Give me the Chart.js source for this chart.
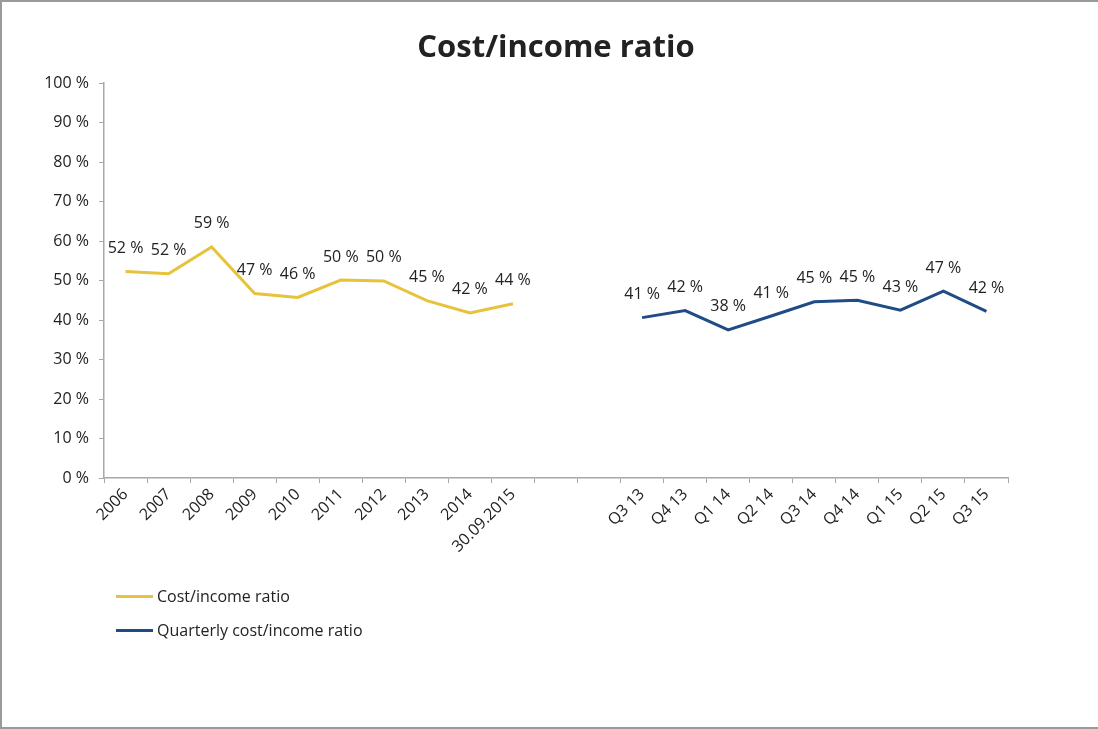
<!DOCTYPE html>
<html>
<head>
<meta charset="utf-8">
<script src="https://cdn.jsdelivr.net/npm/chart.js@4"></script>
<style>
  html, body { margin: 0; padding: 0; background: #fff; }
  body { width: 1098px; height: 729px; position: relative; overflow: hidden; font-family: "Open Sans", sans-serif; }
  #frame { position: absolute; left: 0; top: 0; width: 1200px; height: 725px; border: 2px solid #9a9a9a; }
  #wrap { position: absolute; left: 0; top: 0; width: 1098px; height: 729px; }
  #legend { position: absolute; left: 116px; top: 584px; font-size: 16px; color: #222; }
  .item { display: flex; align-items: center; height: 24px; line-height: 24px; margin-bottom: 10px; }
  .swatch { display: inline-block; width: 37px; height: 3px; margin-right: 4px; }
</style>
</head>
<body>
<div id="frame"></div>
<div id="wrap"><canvas id="ratioChart" width="1098" height="729"></canvas></div>
<div id="legend">
  <div class="item"><span class="swatch" style="background:#E6C33A"></span>Cost/income ratio</div>
  <div class="item"><span class="swatch" style="background:#204C85"></span>Quarterly cost/income ratio</div>
</div>
<script>
const chartTitle = 'Cost/income ratio';
const yearLabels = ['2006', '2007', '2008', '2009', '2010', '2011', '2012', '2013', '2014', '30.09.2015'];
const yearValues = [52.3, 51.7, 58.5, 46.7, 45.7, 50.1, 49.9, 44.9, 41.8, 44.1];
const quarterLabels = ['Q3 13', 'Q4 13', 'Q1 14', 'Q2 14', 'Q3 14', 'Q4 14', 'Q1 15', 'Q2 15', 'Q3 15'];
const quarterValues = [40.6, 42.4, 37.5, 41.0, 44.6, 45.0, 42.5, 47.3, 42.2];
const gapLabels = ['', ''];
const yTicks = [0, 10, 20, 30, 40, 50, 60, 70, 80, 90, 100];

const labels = yearLabels.concat(gapLabels, quarterLabels);
const yearSeries = yearValues.concat(gapLabels.map(() => null), quarterLabels.map(() => null));
const quarterSeries = yearLabels.map(() => null).concat(gapLabels.map(() => null), quarterValues);

const font = { family: '"Open Sans", sans-serif', size: 16 };

// value labels above each point + title centred over the plot area
const pointLabels = {
  id: 'pointLabels',
  afterDatasetsDraw(chart) {
    const ctx = chart.ctx;
    const area = chart.chartArea;
    ctx.save();
    ctx.fillStyle = '#222';
    ctx.textAlign = 'center';
    ctx.textBaseline = 'middle';
    ctx.font = 'bold 31px "Open Sans", sans-serif';
    ctx.fillText(chartTitle, (area.left + area.right) / 2, 48);
    ctx.font = '16px "Open Sans", sans-serif';
    chart.data.datasets.forEach((ds, i) => {
      chart.getDatasetMeta(i).data.forEach((pt, j) => {
        const v = ds.data[j];
        if (v === null) return;
        ctx.fillText(Math.round(v) + ' %', pt.x, pt.y - 23);
      });
    });
    ctx.restore();
  }
};

new Chart(document.getElementById('ratioChart'), {
  type: 'line',
  data: {
    labels,
    datasets: [{
      label: 'Cost/income ratio',
      data: yearSeries,
      borderColor: '#E6C33A',
      backgroundColor: '#E6C33A',
      borderWidth: 3,
      pointRadius: 0
    }, {
      label: 'Quarterly cost/income ratio',
      data: quarterSeries,
      borderColor: '#204C85',
      backgroundColor: '#204C85',
      borderWidth: 3,
      pointRadius: 0
    }]
  },
  options: {
    responsive: false,
    animation: false,
    layout: { padding: { left: 0, right: 90, top: 83, bottom: 0 } },
    plugins: {
      legend: { display: false },
      tooltip: { enabled: false },
      title: { display: false }
    },
    scales: {
      x: {
        offset: true,
        afterFit(scale) { scale.height = 251; },
        grid: { offset: true, drawOnChartArea: false, drawTicks: true, tickLength: 5, color: '#a8a8a8' },
        border: { color: '#a8a8a8', width: 1.5 },
        ticks: { font, color: '#222', minRotation: 45, maxRotation: 45, autoSkip: false, padding: 2 }
      },
      y: {
        min: 0,
        max: 100,
        afterFit(scale) { scale.width = 104; },
        afterBuildTicks(scale) { scale.ticks = yTicks.map(v => ({ value: v })); },
        grid: { drawOnChartArea: false, drawTicks: true, tickLength: 5, color: '#a8a8a8' },
        border: { color: '#a8a8a8', width: 1.5 },
        ticks: { font, color: '#222', padding: 10, callback: v => v + ' %' }
      }
    }
  },
  plugins: [pointLabels]
});
</script>
</body>
</html>
